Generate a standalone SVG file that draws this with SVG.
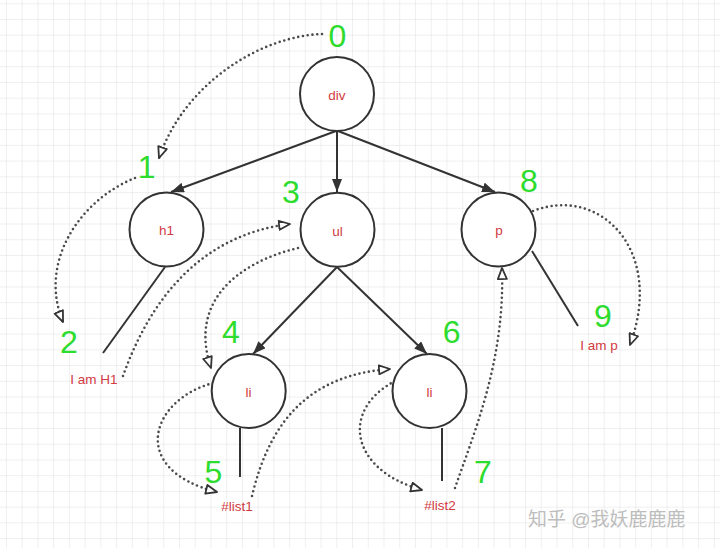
<svg xmlns="http://www.w3.org/2000/svg" width="720" height="548" viewBox="0 0 720 548">
<style>
.circ{fill:#fff;stroke:#333;stroke-width:2}
.lbl{font-family:"Liberation Sans",Arial,sans-serif;font-size:13.5px;fill:#d23a3f;text-anchor:middle}
.num{font-family:"Liberation Sans",Arial,sans-serif;font-size:32px;fill:#2ddc2d;text-anchor:middle}
.edge{fill:none;stroke:#333;stroke-width:2}
.dot{fill:none;stroke:#4a4a4a;stroke-width:2.6;stroke-dasharray:0 4.8;stroke-linecap:round}
.wm{font-family:"Liberation Sans","Noto Sans CJK SC",sans-serif;font-size:19px;fill:#bdbdbd}
</style>
<defs>
<pattern id="grid" patternUnits="userSpaceOnUse" x="5.97" y="3.3" width="15.73" height="15.73">
<path d="M0,0 H15.73 M0,0 V15.73" fill="none" stroke="#e0e0e0" stroke-width="1"/>
</pattern>
<marker id="solid" viewBox="0 0 13 10" refX="13" refY="5" markerWidth="13" markerHeight="10" markerUnits="userSpaceOnUse" orient="auto">
<path d="M0,0 L13,5 L0,10 z" fill="#333"/>
</marker>
<marker id="open" viewBox="0 0 13 11" refX="12" refY="5.5" markerWidth="13" markerHeight="11" markerUnits="userSpaceOnUse" orient="auto">
<path d="M1,1 L12,5.5 L1,10 z" fill="#fff" stroke="#333" stroke-width="1.8" stroke-linejoin="round"/>
</marker>
</defs>
<rect width="720" height="548" fill="#fff"/>
<rect width="720" height="548" fill="url(#grid)"/>

<g id="connectors">
<line class="edge" x1="336" y1="131" x2="171" y2="192" marker-end="url(#solid)"/>
<line class="edge" x1="337" y1="131" x2="337" y2="192" marker-end="url(#solid)"/>
<line class="edge" x1="338" y1="131" x2="495" y2="192" marker-end="url(#solid)"/>
<line class="edge" x1="337" y1="267" x2="253" y2="354" marker-end="url(#solid)"/>
<line class="edge" x1="337" y1="267" x2="427" y2="354" marker-end="url(#solid)"/>
<line class="edge" x1="165" y1="267" x2="103" y2="353"/>
<line class="edge" x1="532" y1="251" x2="578" y2="326"/>
<line class="edge" x1="240" y1="428" x2="240" y2="477"/>
<line class="edge" x1="442" y1="428" x2="442" y2="481"/>

<path class="dot" d="M322,34 C262,36 185,82 159,158" marker-end="url(#open)"/>
<path class="dot" d="M135,178 C80,200 38,262 63,322" marker-end="url(#open)"/>
<path class="dot" d="M123,376 C150,300 200,235 290,224" marker-end="url(#open)"/>
<path class="dot" d="M298,248 C240,262 188,300 211,368" marker-end="url(#open)"/>
<path class="dot" d="M213,383 C150,400 128,470 217,492" marker-end="url(#open)"/>
<path class="dot" d="M252,496 C270,420 310,375 390,369" marker-end="url(#open)"/>
<path class="dot" d="M395,381 C340,410 350,470 422,490" marker-end="url(#open)"/>
<path class="dot" d="M455,488 C475,430 505,360 502,268" marker-end="url(#open)"/>
<path class="dot" d="M533,211 C600,185 665,250 630,345" marker-end="url(#open)"/>
</g>

<g id="node-div"><circle class="circ" cx="337" cy="94" r="37"/><text class="lbl" x="337" y="100">div</text></g>
<g id="node-h1"><circle class="circ" cx="166.5" cy="229.5" r="37"/><text class="lbl" x="166.5" y="235">h1</text></g>
<g id="node-ul"><circle class="circ" cx="337.5" cy="229.8" r="37"/><text class="lbl" x="337.5" y="235.5">ul</text></g>
<g id="node-p"><circle class="circ" cx="498.5" cy="229.5" r="37"/><text class="lbl" x="499" y="235">p</text></g>
<g id="node-li1"><circle class="circ" cx="248.7" cy="391" r="37"/><text class="lbl" x="248.5" y="397">li</text></g>
<g id="node-li2"><circle class="circ" cx="429.5" cy="391" r="37"/><text class="lbl" x="429.5" y="397">li</text></g>
<g id="node-text-h1"><text class="lbl" x="94" y="384">I am H1</text></g>
<g id="node-text-p"><text class="lbl" x="599" y="350">I am p</text></g>
<g id="node-list1"><text class="lbl" x="237" y="511">#list1</text></g>
<g id="node-list2"><text class="lbl" x="440" y="510">#list2</text></g>

<g id="order-numbers">
<text class="num" x="337.5" y="47">0</text>
<text class="num" x="146.7" y="178">1</text>
<text class="num" x="69" y="353">2</text>
<text class="num" x="291" y="203">3</text>
<text class="num" x="231" y="343">4</text>
<text class="num" x="213.3" y="483">5</text>
<text class="num" x="451.7" y="343">6</text>
<text class="num" x="483" y="483">7</text>
<text class="num" x="529" y="192">8</text>
<text class="num" x="603" y="327">9</text>
</g>

<text class="wm" x="528" y="526">知乎 @我妖鹿鹿鹿</text>
</svg>
